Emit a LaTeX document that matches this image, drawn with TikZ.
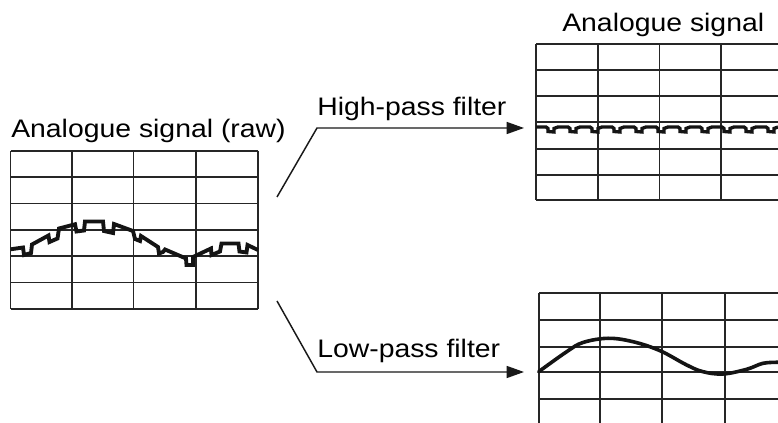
\documentclass[tikz,border=0pt]{standalone}
\usepackage{fontspec}
\setmainfont{Liberation Sans}[FakeStretch=1.12]
\usetikzlibrary{arrows.meta}
\begin{document}
\begin{tikzpicture}[x=0.75pt,y=-0.75pt,
  gridline/.style={draw=black!85,line width=0.8pt},
  signal/.style={draw=black!92,line width=2.9pt,line join=miter,miter limit=3},
  smoothsig/.style={draw=black!92,line width=2.7pt,line cap=round},
  flowarrow/.style={draw=black!90,line width=1.1pt,-{Triangle[length=13pt,width=9pt]}},
  label/.style={anchor=base west,inner sep=0pt,font=\fontsize{19pt}{21pt}\selectfont}]
\useasboundingbox (0,0) rectangle (778,423);
\fill[white] (0,0) rectangle (778,423);
\begin{scope}
\clip (0,0) rectangle (778,423);
% left grid
\foreach \x in {10.5,72,133.5,196,258} \draw[gridline] (\x,151) -- (\x,309);
\foreach \y in {151,177,203.5,230,256,282.5,309} \draw[gridline] (10.5,\y) -- (258,\y);
% top right grid
\foreach \x in {536,598,659.5,721} \draw[gridline] (\x,44) -- (\x,200);
\foreach \y in {44,70,96,122,149,175,200} \draw[gridline] (536,\y) -- (779,\y);
% bottom right grid
\foreach \x in {539,600,662,725} \draw[gridline] (\x,293) -- (\x,424);
\foreach \y in {293,320,347,372,399} \draw[gridline] (539,\y) -- (779,\y);
% raw signal
\draw[signal] (10.7,249.3) -- (23,247.5) -- (24,255) -- (31,253) -- (32,244.5) -- (48.5,235.5) -- (49.5,242) -- (57.5,238.5) -- (59,228.5) -- (75,224.3) -- (76.5,231.5) -- (84,230.5) -- (85,221.5) -- (103,221.5) -- (104,231) -- (113,233) -- (114,224) -- (133,231) -- (135,239) -- (140,241) -- (141,236) -- (158,247) -- (159,253.5) -- (163,252) -- (165,249.5) -- (186,258.5) -- (186.5,265) -- (193,265) -- (193,257) -- (211,248.5) -- (211.5,255) -- (220,251.5) -- (221.5,243.5) -- (238.5,243.5) -- (239.5,251.5) -- (246.5,252.5) -- (247.5,245) -- (258,250);
% high-pass signal
\draw[signal,line width=2.5pt] (536,127) \foreach \i in {0,...,10} { -- ++(10,0) -- ++(2,1.5) -- ++(0,3) -- ++(6,0.5) -- ++(0,-3.5) -- ++(4,-1.5) };
% low-pass signal
\draw[smoothsig] plot[smooth,tension=0.6] coordinates {(538.7,371.7) (566.7,351.7) (583,342.5) (608,338.3) (633,341.7) (660,350.7) (686.7,365) (703,371.7) (723,374) (746.7,369.3) (763,363.3) (778,362.3)};
\end{scope}
% labels
\node[label] (rawlabel) at (11,138) {Analogue signal (raw)};
\node[label] (outlabel) at (562,32) {Analogue signal};
\node[label] (hplabel) at (317,116) {High-pass filter};
\node[label] (lplabel) at (317,358) {Low-pass filter};
% arrows
\coordinate (hpA) at (277,197);
\coordinate (hpB) at (317,128);
\coordinate (hpC) at (524,128);
\coordinate (lpA) at (277,301);
\coordinate (lpB) at (317,372);
\coordinate (lpC) at (524,372);
\draw[flowarrow] (hpA) -- (hpB) -- (hpC);
\draw[flowarrow] (lpA) -- (lpB) -- (lpC);
\end{tikzpicture}
\end{document}
